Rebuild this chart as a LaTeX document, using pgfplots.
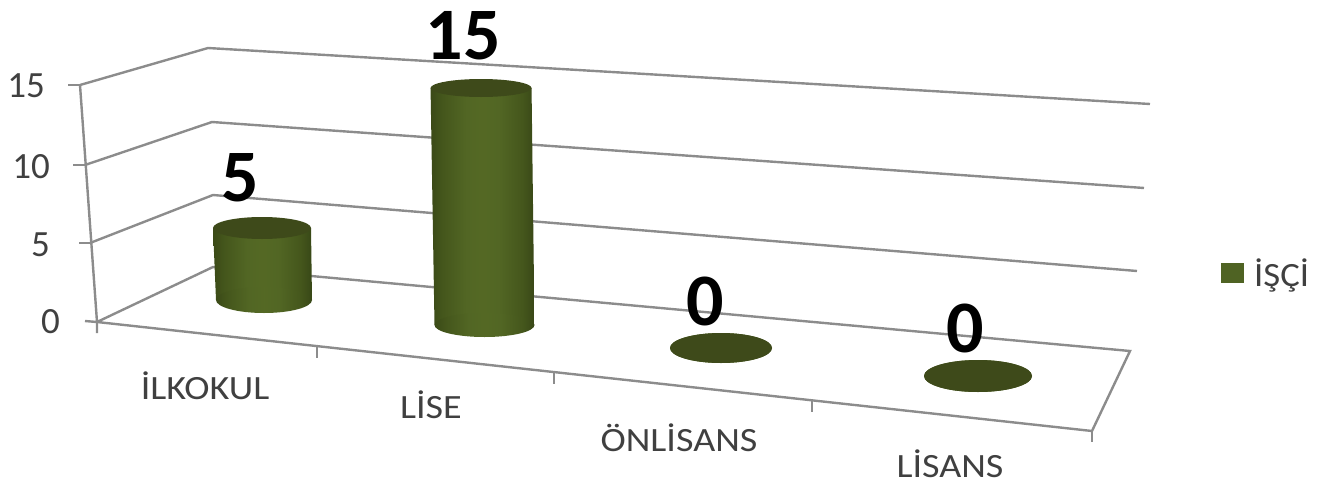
\documentclass[border=0pt]{standalone}
\usepackage{pgfplots}
\usepackage{pgfplotstable}
\usepackage{fontspec}
\setmainfont{Carlito}
\pgfplotsset{compat=1.18}

\definecolor{gridgray}{HTML}{8C8C8C}
\definecolor{labelgray}{HTML}{404040}
\definecolor{capgreen}{HTML}{3E4A1A}
\definecolor{legendgreen}{HTML}{4F6323}

\newcommand\legendtext{\scalebox{1.08}[1]{İŞÇİ}}
\newcommand\cattext[1]{\scalebox{1.12}[1]{#1}}

% Cylinder wall: dark edges, lighter centre
\pgfdeclarehorizontalshading{cylwall}{100bp}{
  rgb(0bp)=(0.23,0.29,0.09);
  rgb(25bp)=(0.23,0.29,0.09);
  rgb(31bp)=(0.27,0.34,0.11);
  rgb(42bp)=(0.32,0.40,0.14);
  rgb(50bp)=(0.33,0.41,0.14);
  rgb(58bp)=(0.32,0.40,0.14);
  rgb(69bp)=(0.27,0.34,0.11);
  rgb(75bp)=(0.22,0.28,0.09);
  rgb(100bp)=(0.22,0.28,0.09)}

\pgfdeclareplotmark{cylbase}{%
  \pgfpathellipse{\pgfpointorigin}{\pgfqpoint{\rxb pt}{0pt}}{\pgfqpoint{0pt}{\ryb pt}}%
  \pgfshadepath{cylwall}{0}\pgfusepath{}}
\pgfdeclareplotmark{cyltop}{%
  \pgfsetfillcolor{capgreen}%
  \pgfpathellipse{\pgfpointorigin}{\pgfqpoint{\rxt pt}{0pt}}{\pgfqpoint{0pt}{\ryt pt}}%
  \pgfusepathqfill}

% value, base centre, picture length per unit at that bar, radii, label position
\pgfplotstableread{
cat value bx by unit sx rxb ryb rxt ryt lx ly
0   5     264 300 14.4 -0.4 48 13 49 11 240 178
1   15    484.5 325 15.8 -0.23 50 12 50.5 9 463 36
2   0     721 348 0 0 51 15 51 15 705 301
3   0     978 376 0 0 54 16 54 16 965 328
}\bars

% back wall, side wall and floor lines
\pgfplotstableread{
x y
80 85
208 48
1150 104
}\gridA
\pgfplotstableread{
x y
85 165
212 122
1144 188
}\gridB
\pgfplotstableread{
x y
90 243
213 195
1137 271
}\gridC
\pgfplotstableread{
x y
97 322
213 267
1130 351
1092 431
97 322
}\gridD

% wall of one cylinder: row #1 of the table
\newcommand\cylwall[1]{%
  \pgfplotstablegetelem{#1}{value}\of\bars\let\v\pgfplotsretval
  \pgfplotstablegetelem{#1}{bx}\of\bars\let\bx\pgfplotsretval
  \pgfplotstablegetelem{#1}{by}\of\bars\let\by\pgfplotsretval
  \pgfplotstablegetelem{#1}{unit}\of\bars\let\un\pgfplotsretval
  \pgfplotstablegetelem{#1}{sx}\of\bars\let\sx\pgfplotsretval
  \pgfplotstablegetelem{#1}{rxb}\of\bars\let\rb\pgfplotsretval
  \pgfplotstablegetelem{#1}{rxt}\of\bars\let\rt\pgfplotsretval
  \pgfmathsetmacro\xl{\bx-\rb}\pgfmathsetmacro\xr{\bx+\rb}%
  \pgfmathsetmacro\tl{\bx+\sx*\v-\rt}\pgfmathsetmacro\tr{\bx+\sx*\v+\rt}%
  \pgfmathsetmacro\ty{\by-\un*\v}%
  \addplot[draw=none,shading=cylwall,shading angle=0,forget plot] coordinates
    {(\xl,\by) (\tl,\ty) (\tr,\ty) (\xr,\by)} --cycle;
}

\begin{document}
\begin{tikzpicture}
\begin{axis}[
  x=1pt,y=1pt,scale only axis,
  xmin=0,xmax=1323,ymin=0,ymax=485,y dir=reverse,
  axis lines=none,clip=false,
  legend style={draw=none,fill=none,at={(axis cs:1221,273)},anchor=west,
    font=\fontsize{34}{34}\selectfont\color{labelgray},inner sep=0pt},
  ]

  \addplot[gridgray,line width=2.4pt,forget plot] table {\gridA};
  \addplot[gridgray,line width=2.4pt,forget plot] table {\gridB};
  \addplot[gridgray,line width=2.4pt,forget plot] table {\gridC};
  \addplot[gridgray,line width=2.4pt,line join=miter,forget plot] table {\gridD};

  % front vertical edge
  \addplot[gridgray,line width=2.4pt,forget plot] coordinates {(80,85) (97,322) (97,333)};
  % value axis ticks
  \addplot[gridgray,line width=2.4pt,forget plot] coordinates {(68,85) (80,85)};
  \addplot[gridgray,line width=2.4pt,forget plot] coordinates {(73,165) (85,165)};
  \addplot[gridgray,line width=2.4pt,forget plot] coordinates {(79,243) (90,243)};
  \addplot[gridgray,line width=2.4pt,forget plot] coordinates {(85,321) (97,322)};
  % category axis ticks
  \addplot[gridgray,line width=2.4pt,forget plot] coordinates {(317,347) (317,358)};
  \addplot[gridgray,line width=2.4pt,forget plot] coordinates {(554,373) (554,384)};
  \addplot[gridgray,line width=2.4pt,forget plot] coordinates {(812,401) (812,412)};
  \addplot[gridgray,line width=2.4pt,forget plot] coordinates {(1092,431) (1092,442)};

  % cylinder bases
  \addplot[only marks,mark=cylbase,forget plot,
    visualization depends on={\thisrow{rxb}\as\rxb},
    visualization depends on={\thisrow{ryb}\as\ryb}]
    table[x=bx,y=by] {\bars};
  % cylinder walls
  \cylwall{0}
  \cylwall{1}
  % cylinder tops, placed from the values
  \addplot[only marks,mark=cyltop,forget plot,
    visualization depends on={\thisrow{rxt}\as\rxt},
    visualization depends on={\thisrow{ryt}\as\ryt}]
    table[x expr=\thisrow{bx}+\thisrow{sx}*\thisrow{value},
          y expr=\thisrow{by}-\thisrow{unit}*\thisrow{value}] {\bars};

  % data labels
  \addplot[draw=none,forget plot,nodes near coords,point meta=explicit symbolic,
    nodes near coords style={anchor=center,text=black,inner sep=0pt,
      font=\fontsize{74}{74}\selectfont\bfseries}]
    table[x=lx,y=ly,meta=value] {\bars};

  % value axis numbers
  \foreach \yy/\xx/\t in {86/45/15,167/50/10,245/50/5,322/60/0}{
    \edef\tmp{\noexpand\node[anchor=east,inner sep=0pt,text=labelgray,
      font=\noexpand\fontsize{37}{37}\noexpand\selectfont]
      at (axis cs:\xx,\yy) {\t};}\tmp
  }
  % category names
  \node[inner sep=0pt,text=labelgray,font=\fontsize{34}{34}\selectfont] at (axis cs:205,386) {\cattext{İLKOKUL}};
  \node[inner sep=0pt,text=labelgray,font=\fontsize{34}{34}\selectfont] at (axis cs:431,405) {\cattext{LİSE}};
  \node[inner sep=0pt,text=labelgray,font=\fontsize{34}{34}\selectfont] at (axis cs:679,438) {\cattext{ÖNLİSANS}};
  \node[inner sep=0pt,text=labelgray,font=\fontsize{34}{34}\selectfont] at (axis cs:950,464) {\cattext{LİSANS}};

  \addlegendimage{legend image code/.code={
    \fill[legendgreen,draw=none] (0pt,-10pt) rectangle (23pt,10pt);
    \path[draw=none,fill=none] (0pt,0pt) -- (31pt,0pt);}}
  \addlegendentry{\legendtext}
\end{axis}
\path[use as bounding box] (0,0) rectangle (1323pt,485pt);
\end{tikzpicture}
\end{document}
